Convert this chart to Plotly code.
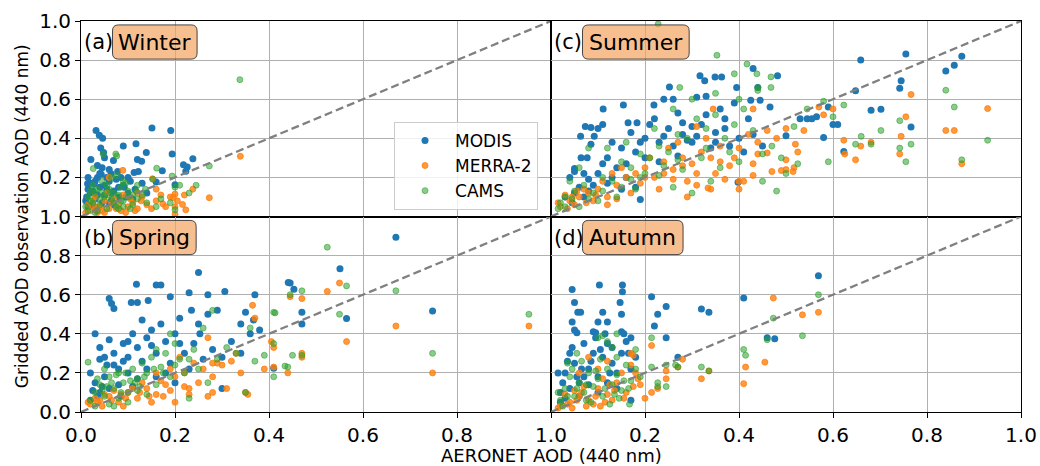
import plotly.graph_objects as go
from plotly.subplots import make_subplots

# ---------------- data (AERONET AOD, gridded AOD) ----------------
winter_modis = [(0.032,0.44),(0.039,0.415),(0.046,0.40),(0.151,0.453),(0.191,0.44),(0.09,0.36),(0.117,0.372),
    (0.048,0.327),(0.021,0.292),(0.069,0.287),(0.12,0.292),(0.129,0.282),(0.139,0.327),(0.194,0.32),(0.238,0.296),
    (0.218,0.265),(0.226,0.253),(0.223,0.231),(0.173,0.234),(0.113,0.225),(0.122,0.23),(0.078,0.23),(0.064,0.219),
    (0.043,0.216),(0.035,0.261),(0.028,0.168),(0.014,0.168),(0.2,0.163),(0.092,0.15),(0.16,0.176),(0.042,0.35),
    (0.05,0.3),(0.06,0.24),(0.1,0.2),(0.055,0.2),(0.02,0.12),(0.03,0.09),(0.04,0.15),(0.05,0.11),(0.06,0.18),
    (0.07,0.13),(0.08,0.1),(0.025,0.06),(0.015,0.14),(0.035,0.2),(0.045,0.07),(0.09,0.16),(0.1,0.12),(0.11,0.09),
    (0.055,0.14),(0.065,0.08),(0.075,0.19),(0.012,0.1),(0.02,0.17),(0.03,0.04),(0.01,0.08),(0.015,0.2),(0.04,0.22),
    (0.085,0.2),(0.105,0.18),(0.115,0.14),(0.13,0.17),(0.14,0.12),(0.025,0.13),(0.07,0.06),(0.015,0.05),
    (0.035,0.11),(0.05,0.16),(0.065,0.12),(0.08,0.15),(0.095,0.1),(0.03,0.18),(0.045,0.25),(0.06,0.07)]
winter_merra = [(0.339,0.308),(0.273,0.096),(0.238,0.14),(0.19,0.1),(0.196,0.097),(0.2,0.115),(0.216,0.062),
    (0.223,0.034),(0.174,0.065),(0.16,0.14),(0.152,0.193),(0.128,0.08),(0.089,0.236),(0.2,0.05),(0.2,0.012),(0.06,0.2),
    (0.02,0.03),(0.04,0.05),(0.06,0.04),(0.08,0.06),(0.1,0.05),(0.05,0.08),(0.03,0.1),(0.07,0.09),(0.09,0.11),
    (0.11,0.07),(0.12,0.04),(0.015,0.06),(0.035,0.02),(0.055,0.12),(0.13,0.1),(0.14,0.06),(0.16,0.08),(0.18,0.05),
    (0.205,0.08),(0.22,0.11),(0.025,0.08),(0.045,0.03),(0.065,0.07),(0.085,0.03),(0.105,0.09),(0.12,0.12),
    (0.15,0.04),(0.17,0.11),(0.01,0.02),(0.03,0.05),(0.05,0.02),(0.075,0.04),(0.095,0.02),(0.115,0.03)]
winter_cams = [(0.338,0.70),(0.273,0.258),(0.161,0.247),(0.194,0.207),(0.153,0.19),(0.2,0.15),(0.21,0.16),
    (0.19,0.07),(0.16,0.05),(0.047,0.32),(0.076,0.31),(0.074,0.32),(0.026,0.245),(0.077,0.21),(0.09,0.18),
    (0.118,0.13),(0.137,0.14),(0.23,0.12),(0.245,0.16),(0.2,0.035),(0.17,0.09),(0.01,0.05),(0.02,0.08),(0.03,0.12),
    (0.04,0.06),(0.05,0.1),(0.06,0.14),(0.07,0.07),(0.08,0.11),(0.09,0.08),(0.1,0.13),(0.11,0.06),(0.12,0.09),
    (0.025,0.16),(0.045,0.18),(0.065,0.2),(0.085,0.15),(0.015,0.1),(0.035,0.03),(0.055,0.04),(0.075,0.05),
    (0.095,0.17),(0.13,0.11),(0.14,0.07),(0.105,0.04),(0.12,0.16),(0.02,0.13),(0.04,0.09),(0.06,0.11),(0.08,0.04),
    (0.1,0.1),(0.035,0.14),(0.055,0.16),(0.07,0.12),(0.09,0.05),(0.015,0.03),(0.025,0.07),(0.045,0.12),
    (0.065,0.09),(0.085,0.08),(0.11,0.11),(0.03,0.02)]

summer_modis = [(0.755,0.831),(0.874,0.82),(0.858,0.774),(0.84,0.744),(0.659,0.8),(0.745,0.694),(0.742,0.656),
    (0.648,0.643),(0.681,0.544),(0.702,0.548),(0.766,0.458),(0.623,0.333),(0.6,0.47),(0.61,0.47),(0.58,0.404),
    (0.59,0.56),(0.565,0.51),(0.53,0.5),(0.545,0.5),(0.555,0.5),(0.5,0.413),(0.482,0.72),(0.466,0.56),(0.43,0.757),
    (0.44,0.66),(0.425,0.595),(0.445,0.595),(0.395,0.66),(0.363,0.714),(0.349,0.714),(0.327,0.695),(0.317,0.72),
    (0.252,0.663),(0.31,0.61),(0.33,0.615),(0.24,0.6),(0.26,0.6),(0.219,0.57),(0.154,0.57),(0.111,0.55),(0.183,0.48),
    (0.164,0.48),(0.11,0.47),(0.073,0.46),(0.085,0.455),(0.1,0.45),(0.063,0.41),(0.092,0.41),(0.05,0.246),(0.05,0.23),
    (0.064,0.3),(0.077,0.3),(0.085,0.37),(0.15,0.35),(0.2,0.4),(0.25,0.45),(0.28,0.42),(0.3,0.38),(0.32,0.47),
    (0.35,0.43),(0.38,0.36),(0.33,0.52),(0.36,0.55),(0.27,0.53),(0.22,0.5),(0.18,0.33),(0.12,0.3),(0.14,0.25),
    (0.1,0.22),(0.16,0.2),(0.2,0.3),(0.23,0.28),(0.26,0.36),(0.3,0.46),(0.4,0.4),(0.41,0.33),(0.42,0.5),(0.45,0.36),
    (0.39,0.58),(0.37,0.45),(0.29,0.39),(0.24,0.41),(0.21,0.47),(0.19,0.38),(0.17,0.43),(0.13,0.38),(0.11,0.27),
    (0.08,0.19),(0.06,0.15),(0.05,0.12),(0.07,0.1),(0.09,0.16),(0.04,0.2),(0.12,0.17),(0.15,0.14),(0.18,0.15),
    (0.19,0.087),(0.398,0.175),(0.03,0.1),(0.045,0.07),(0.08,0.13),(0.27,0.31),(0.34,0.35),(0.43,0.42),
    (0.23,0.38),(0.28,0.48),(0.31,0.41),(0.35,0.38),(0.13,0.2),(0.07,0.22),(0.16,0.27),(0.37,0.5)]
summer_merra = [(0.766,0.624),(0.929,0.552),(0.84,0.44),(0.858,0.44),(0.874,0.27),(0.745,0.41),(0.742,0.32),
    (0.755,0.51),(0.681,0.38),(0.659,0.36),(0.648,0.29),(0.625,0.32),(0.623,0.39),(0.6,0.55),(0.58,0.52),(0.57,0.56),
    (0.538,0.44),(0.525,0.33),(0.517,0.25),(0.515,0.23),(0.5,0.24),(0.49,0.235),(0.47,0.23),(0.5,0.29),(0.52,0.37),
    (0.44,0.32),(0.46,0.325),(0.43,0.21),(0.43,0.55),(0.41,0.18),(0.4,0.18),(0.4,0.14),(0.345,0.55),(0.334,0.146),
    (0.34,0.14),(0.29,0.1),(0.31,0.16),(0.31,0.46),(0.02,0.05),(0.04,0.08),(0.06,0.1),(0.08,0.12),(0.1,0.14),
    (0.12,0.1),(0.14,0.16),(0.16,0.2),(0.18,0.22),(0.2,0.25),(0.22,0.2),(0.24,0.28),(0.26,0.24),(0.28,0.3),(0.3,0.27),
    (0.32,0.33),(0.34,0.3),(0.36,0.36),(0.38,0.26),(0.4,0.35),(0.42,0.42),(0.44,0.38),(0.46,0.44),(0.48,0.4),
    (0.5,0.45),(0.25,0.35),(0.27,0.38),(0.21,0.3),(0.15,0.25),(0.13,0.22),(0.11,0.18),(0.09,0.08),(0.07,0.14),
    (0.05,0.06),(0.03,0.11),(0.19,0.17),(0.23,0.14),(0.35,0.22),(0.37,0.19),(0.39,0.3),(0.43,0.27),(0.31,0.22),
    (0.29,0.18),(0.17,0.12),(0.33,0.4),(0.035,0.04),(0.055,0.13),(0.12,0.06),(0.26,0.19),(0.36,0.28),
    (0.015,0.07),(0.045,0.1),(0.075,0.07),(0.095,0.11),(0.14,0.09),(0.2,0.2),(0.24,0.22),(0.28,0.26)]
summer_cams = [(0.353,0.825),(0.417,0.78),(0.438,0.73),(0.468,0.714),(0.468,0.66),(0.44,0.66),(0.44,0.645),
    (0.39,0.73),(0.274,0.66),(0.228,0.985),(0.84,0.646),(0.858,0.56),(0.929,0.39),(0.874,0.29),(0.755,0.28),
    (0.766,0.37),(0.742,0.49),(0.742,0.35),(0.702,0.44),(0.681,0.37),(0.66,0.41),(0.648,0.37),(0.623,0.57),(0.6,0.51),
    (0.58,0.59),(0.59,0.28),(0.545,0.55),(0.525,0.27),(0.517,0.46),(0.5,0.22),(0.49,0.3),(0.48,0.13),(0.45,0.18),
    (0.02,0.07),(0.03,0.1),(0.05,0.13),(0.07,0.16),(0.09,0.12),(0.11,0.2),(0.13,0.18),(0.15,0.28),(0.17,0.25),
    (0.19,0.32),(0.21,0.3),(0.23,0.36),(0.25,0.33),(0.27,0.42),(0.29,0.4),(0.31,0.5),(0.33,0.45),(0.35,0.52),
    (0.37,0.4),(0.39,0.47),(0.41,0.55),(0.43,0.44),(0.45,0.32),(0.47,0.36),(0.2,0.22),(0.24,0.26),(0.28,0.24),
    (0.32,0.3),(0.36,0.25),(0.4,0.28),(0.14,0.1),(0.18,0.14),(0.26,0.15),(0.3,0.12),(0.34,0.18),(0.06,0.05),
    (0.1,0.08),(0.12,0.35),(0.16,0.38),(0.22,0.45),(0.26,0.55),(0.3,0.6),(0.35,0.63),(0.4,0.6),(0.08,0.35),
    (0.06,0.25),(0.04,0.18),(0.03,0.05),(0.08,0.09),(0.15,0.15),(0.19,0.2),(0.015,0.04),(0.045,0.09),
    (0.11,0.13),(0.17,0.19),(0.23,0.21),(0.27,0.29),(0.33,0.35),(0.38,0.33)]

spring_modis = [(0.67,0.894),(0.551,0.733),(0.748,0.517),(0.445,0.66),(0.453,0.628),(0.47,0.51),(0.47,0.45),
    (0.565,0.478),(0.41,0.224),(0.25,0.713),(0.118,0.653),(0.16,0.65),(0.17,0.65),(0.06,0.58),(0.065,0.555),
    (0.07,0.53),(0.107,0.56),(0.12,0.56),(0.143,0.57),(0.19,0.59),(0.23,0.61),(0.27,0.6),(0.306,0.617),(0.37,0.6),
    (0.29,0.52),(0.235,0.52),(0.21,0.48),(0.367,0.47),(0.34,0.45),(0.35,0.51),(0.253,0.4),(0.441,0.662),
    (0.03,0.4),(0.04,0.33),(0.05,0.28),(0.06,0.37),(0.07,0.3),(0.08,0.22),(0.09,0.35),(0.1,0.28),(0.11,0.4),
    (0.12,0.33),(0.13,0.26),(0.14,0.38),(0.15,0.42),(0.16,0.3),(0.17,0.45),(0.18,0.36),(0.19,0.25),(0.2,0.4),
    (0.02,0.2),(0.03,0.15),(0.04,0.1),(0.05,0.18),(0.06,0.12),(0.07,0.24),(0.08,0.14),(0.1,0.2),(0.12,0.17),
    (0.14,0.22),(0.16,0.18),(0.18,0.2),(0.22,0.3),(0.24,0.35),(0.26,0.27),(0.28,0.32),(0.3,0.28),(0.32,0.36),
    (0.34,0.3),(0.36,0.4),(0.38,0.42),(0.25,0.45),(0.27,0.5),(0.3,0.12),(0.2,0.15),(0.23,0.22),(0.035,0.08),
    (0.045,0.13),(0.025,0.11),(0.055,0.24),(0.085,0.08),(0.11,0.13),(0.04,0.27),(0.09,0.26),(0.15,0.34),
    (0.21,0.35),(0.13,0.47),(0.1,0.36),(0.02,0.06)]
spring_merra = [(0.55,0.66),(0.524,0.617),(0.445,0.59),(0.47,0.58),(0.67,0.44),(0.953,0.44),(0.748,0.2),
    (0.565,0.36),(0.41,0.33),(0.405,0.36),(0.41,0.23),(0.44,0.2),(0.47,0.3),(0.47,0.28),(0.37,0.48),(0.365,0.546),
    (0.27,0.38),(0.28,0.25),(0.29,0.25),(0.34,0.2),(0.35,0.1),(0.355,0.09),(0.28,0.1),(0.31,0.12),(0.32,0.26),
    (0.39,0.22),(0.23,0.12),(0.02,0.04),(0.04,0.06),(0.06,0.08),(0.08,0.05),(0.1,0.1),(0.12,0.07),(0.14,0.12),
    (0.16,0.09),(0.18,0.14),(0.2,0.18),(0.22,0.2),(0.24,0.25),(0.26,0.22),(0.21,0.28),(0.19,0.22),(0.17,0.16),
    (0.15,0.05),(0.13,0.15),(0.11,0.12),(0.09,0.03),(0.07,0.11),(0.05,0.09),(0.03,0.07),(0.25,0.15),(0.23,0.09),
    (0.28,0.18),(0.3,0.24),(0.33,0.3),(0.2,0.05),(0.16,0.2),(0.22,0.13),(0.27,0.08),(0.035,0.05),(0.065,0.06),
    (0.095,0.07),(0.125,0.1),(0.175,0.08),(0.015,0.05),(0.045,0.03),(0.085,0.09),(0.145,0.08),(0.19,0.11)]
spring_cams = [(0.524,0.843),(0.565,0.645),(0.67,0.62),(0.953,0.5),(0.748,0.3),(0.55,0.5),(0.47,0.62),
    (0.445,0.6),(0.41,0.51),(0.41,0.35),(0.41,0.18),(0.44,0.23),(0.47,0.29),(0.434,0.235),(0.45,0.29),(0.413,0.507),
    (0.36,0.43),(0.28,0.52),(0.26,0.43),(0.31,0.33),(0.39,0.29),(0.35,0.1),(0.23,0.07),(0.27,0.15),(0.015,0.255),
    (0.19,0.4),(0.02,0.06),(0.03,0.1),(0.04,0.14),(0.05,0.08),(0.06,0.18),(0.07,0.12),(0.08,0.2),(0.09,0.15),
    (0.1,0.1),(0.11,0.22),(0.12,0.17),(0.13,0.25),(0.14,0.2),(0.15,0.28),(0.16,0.14),(0.17,0.23),(0.18,0.3),
    (0.19,0.18),(0.2,0.35),(0.21,0.27),(0.22,0.2),(0.24,0.32),(0.06,0.04),(0.08,0.07),(0.05,0.22),(0.03,0.03),
    (0.1,0.05),(0.12,0.11),(0.14,0.09),(0.16,0.32),(0.2,0.24),(0.23,0.27),(0.25,0.22),(0.29,0.27),(0.33,0.3),
    (0.37,0.26),(0.07,0.03),(0.045,0.11),(0.065,0.15),(0.085,0.1),(0.105,0.16),(0.125,0.13),(0.035,0.17),
    (0.055,0.13),(0.075,0.19),(0.095,0.2),(0.115,0.15),(0.135,0.18),(0.155,0.22),(0.175,0.2)]

autumn_modis = [(0.569,0.697),(0.41,0.583),(0.32,0.527),(0.336,0.51),(0.245,0.54),(0.227,0.5),(0.22,0.44),
    (0.214,0.59),(0.245,0.38),(0.46,0.38),(0.476,0.375),(0.103,0.65),(0.152,0.65),(0.152,0.615),(0.045,0.627),
    (0.05,0.56),(0.057,0.51),(0.063,0.51),(0.045,0.46),(0.11,0.51),(0.12,0.46),(0.15,0.5),(0.147,0.56),(0.1,0.46),
    (0.05,0.42),(0.055,0.405),(0.09,0.41),(0.095,0.405),(0.15,0.41),(0.17,0.38),(0.27,0.28),(0.02,0.1),(0.03,0.2),
    (0.04,0.3),(0.05,0.25),(0.06,0.15),(0.07,0.35),(0.08,0.22),(0.09,0.3),(0.1,0.18),(0.11,0.28),(0.12,0.35),
    (0.13,0.25),(0.14,0.2),(0.15,0.3),(0.16,0.36),(0.17,0.22),(0.18,0.28),(0.02,0.05),(0.04,0.12),(0.06,0.08),
    (0.08,0.14),(0.1,0.1),(0.12,0.15),(0.025,0.15),(0.035,0.26),(0.045,0.33),(0.065,0.22),(0.095,0.38),
    (0.115,0.4),(0.13,0.33),(0.155,0.4),(0.17,0.06),(0.03,0.07),(0.07,0.18),(0.14,0.12),(0.015,0.2),
    (0.055,0.18),(0.085,0.26),(0.105,0.32),(0.125,0.2),(0.165,0.3)]
autumn_merra = [(0.473,0.583),(0.535,0.497),(0.569,0.51),(0.455,0.255),(0.414,0.23),(0.41,0.145),(0.32,0.17),
    (0.336,0.21),(0.28,0.27),(0.27,0.23),(0.245,0.21),(0.245,0.17),(0.227,0.12),(0.214,0.1),(0.214,0.34),(0.17,0.3),
    (0.175,0.29),(0.02,0.03),(0.04,0.05),(0.06,0.08),(0.08,0.06),(0.1,0.12),(0.12,0.09),(0.14,0.15),(0.16,0.1),
    (0.18,0.2),(0.19,0.14),(0.17,0.24),(0.15,0.2),(0.13,0.06),(0.11,0.17),(0.09,0.04),(0.07,0.13),(0.05,0.11),
    (0.03,0.09),(0.08,0.28),(0.1,0.22),(0.2,0.07),(0.06,0.2),(0.12,0.26),(0.035,0.04),(0.055,0.06),(0.075,0.03),
    (0.095,0.08),(0.115,0.05),(0.135,0.11),(0.155,0.07),(0.175,0.13),(0.015,0.02),(0.045,0.02),(0.065,0.1),
    (0.105,0.03),(0.125,0.14),(0.185,0.17)]
autumn_cams = [(0.569,0.6),(0.473,0.48),(0.535,0.39),(0.46,0.37),(0.41,0.32),(0.414,0.29),(0.336,0.21),
    (0.32,0.23),(0.27,0.23),(0.265,0.24),(0.245,0.24),(0.245,0.13),(0.227,0.15),(0.227,0.13),(0.214,0.38),
    (0.214,0.23),(0.18,0.32),(0.167,0.04),(0.1,0.38),(0.11,0.39),(0.12,0.36),(0.13,0.33),(0.14,0.4),(0.14,0.28),
    (0.02,0.06),(0.03,0.12),(0.04,0.18),(0.05,0.08),(0.06,0.15),(0.07,0.1),(0.08,0.2),(0.09,0.13),(0.1,0.17),
    (0.11,0.08),(0.12,0.22),(0.13,0.14),(0.14,0.19),(0.15,0.11),(0.16,0.24),(0.17,0.16),(0.18,0.22),(0.19,0.18),
    (0.025,0.03),(0.045,0.22),(0.065,0.26),(0.085,0.05),(0.105,0.27),(0.125,0.04),(0.145,0.07),(0.165,0.12),
    (0.055,0.3),(0.035,0.25),(0.015,0.1),(0.075,0.14),(0.095,0.21),(0.155,0.16),(0.035,0.08),(0.055,0.12),
    (0.075,0.06),(0.115,0.12),(0.135,0.09)]

one_to_one = [0.0, 1.0]
tick_values = [0.0, 0.2, 0.4, 0.6, 0.8, 1.0]
tick_labels = ["0.0", "0.2", "0.4", "0.6", "0.8", "1.0"]
series_names = ["MODIS", "MERRA-2", "CAMS"]

panels = [
    # (row, col, letter, season, [modis, merra, cams])
    (1, 1, "(a)", "Winter", [winter_modis, winter_merra, winter_cams]),
    (2, 1, "(b)", "Spring", [spring_modis, spring_merra, spring_cams]),
    (1, 2, "(c)", "Summer", [summer_modis, summer_merra, summer_cams]),
    (2, 2, "(d)", "Autumn", [autumn_modis, autumn_merra, autumn_cams]),
]

# ---------------- styles ----------------
FONT = "DejaVu Sans"
marker_styles = [
    dict(color="#1f77b4", size=7, line=dict(width=0)),
    dict(color="rgba(255,127,14,0.8)", size=6, line=dict(width=1, color="rgba(255,127,14,0.8)")),
    dict(color="rgba(44,160,44,0.55)", size=6, line=dict(width=1, color="rgba(44,160,44,0.55)")),
]

fig = make_subplots(rows=2, cols=2, horizontal_spacing=0, vertical_spacing=0)

for i, (row, col, letter, season, series) in enumerate(panels):
    for k, pts in enumerate(series):
        xs = [p[0] for p in pts]
        ys = [p[1] for p in pts]
        fig.add_trace(go.Scatter(x=xs, y=ys, mode="markers", name=series_names[k],
                                 legendgroup=series_names[k], showlegend=(i == 0),
                                 marker=marker_styles[k]), row=row, col=col)
    fig.add_trace(go.Scatter(x=one_to_one, y=one_to_one, mode="lines", showlegend=False,
                             line=dict(color="#808080", width=2.3, dash="8px,4px"),
                             hoverinfo="skip"), row=row, col=col)

axis_common = dict(range=[0, 1], showgrid=True, gridcolor="#b0b0b0", gridwidth=1, zeroline=False,
                   showline=True, linecolor="black", linewidth=1, mirror=True,
                   ticks="outside", ticklen=5, tickcolor="black", automargin=False,
                   tickfont=dict(family=FONT, size=20, color="black"),
                   tickvals=tick_values, ticktext=tick_labels)
fig.update_xaxes(**axis_common)
fig.update_yaxes(**axis_common)

# top row: no x tick labels
fig.update_xaxes(showticklabels=False, ticks="", row=1, col=1)
fig.update_xaxes(showticklabels=False, ticks="", row=1, col=2)
# right column: no y tick labels
fig.update_yaxes(showticklabels=False, ticks="", row=1, col=2)
fig.update_yaxes(showticklabels=False, ticks="", row=2, col=2)
# top-left y: hide 0.0 label (shared edge shows 1.0 of lower panel)
fig.update_yaxes(tickvals=tick_values[1:], ticktext=tick_labels[1:], row=1, col=1)
# bottom-right x: hide 0.0 label
fig.update_xaxes(tickvals=tick_values[1:], ticktext=tick_labels[1:], row=2, col=2)

# ---------------- panel labels ----------------
axis_ids = {(1, 1): ("x", "y"), (1, 2): ("x2", "y2"), (2, 1): ("x3", "y3"), (2, 2): ("x4", "y4")}
box_right = {"Winter": 0.247, "Spring": 0.245, "Summer": 0.294, "Autumn": 0.281}


def rounded_rect(x0, x1, y0, y1, rx, ry):
    return (f"M {x0+rx},{y0} L {x1-rx},{y0} Q {x1},{y0} {x1},{y0+ry} "
            f"L {x1},{y1-ry} Q {x1},{y1} {x1-rx},{y1} L {x0+rx},{y1} "
            f"Q {x0},{y1} {x0},{y1-ry} L {x0},{y0+ry} Q {x0},{y0} {x0+rx},{y0} Z")


for row, col, letter, season, _ in panels:
    xa, ya = axis_ids[(row, col)]
    xref, yref = f"{xa} domain", f"{ya} domain"
    x0 = 0.067
    x1 = box_right[season]
    y0, y1 = 0.805, 0.98
    fig.add_shape(type="path", path=rounded_rect(x0, x1, y0, y1, 6 / 470, 6 / 195),
                  xref=xref, yref=yref, fillcolor="rgba(244,164,96,0.7)",
                  line=dict(color="rgba(40,40,40,0.85)", width=1), layer="above")
    fig.add_annotation(x=(x0 + x1) / 2, y=(y0 + y1) / 2, xref=xref, yref=yref, text=season,
                       showarrow=False, xanchor="center", yanchor="middle",
                       font=dict(family=FONT, size=22, color="black"))
    fig.add_annotation(x=0.003, y=(y0 + y1) / 2, xref=xref, yref=yref, text=letter,
                       showarrow=False, xanchor="left", yanchor="middle",
                       font=dict(family=FONT, size=21, color="black"))

# axis titles
fig.add_annotation(x=0.5, y=-0.11, xref="paper", yref="paper", text="AERONET AOD (440 nm)",
                   showarrow=False, xanchor="center", yanchor="middle",
                   font=dict(family=FONT, size=18, color="black"))
fig.add_annotation(x=-0.063, y=0.5, xref="paper", yref="paper", text="Gridded AOD observation AOD (440 nm)",
                   showarrow=False, textangle=-90, xanchor="center", yanchor="middle",
                   font=dict(family=FONT, size=17, color="black"))

fig.update_layout(
    width=1040, height=466,
    margin=dict(l=81, r=19, t=21, b=54, autoexpand=False),
    paper_bgcolor="white", plot_bgcolor="white",
    font=dict(family=FONT, size=17, color="black"),
    legend=dict(x=0.333, y=0.742, xanchor="left", yanchor="top",
                bgcolor="rgba(255,255,255,0.8)", bordercolor="#cccccc", borderwidth=1,
                font=dict(family=FONT, size=17, color="black"), itemwidth=50,
                tracegroupgap=0),
    showlegend=True,
)

fig.write_html("out.html", config={"displayModeBar": False},
               post_script="document.body.style.margin='0px';")
